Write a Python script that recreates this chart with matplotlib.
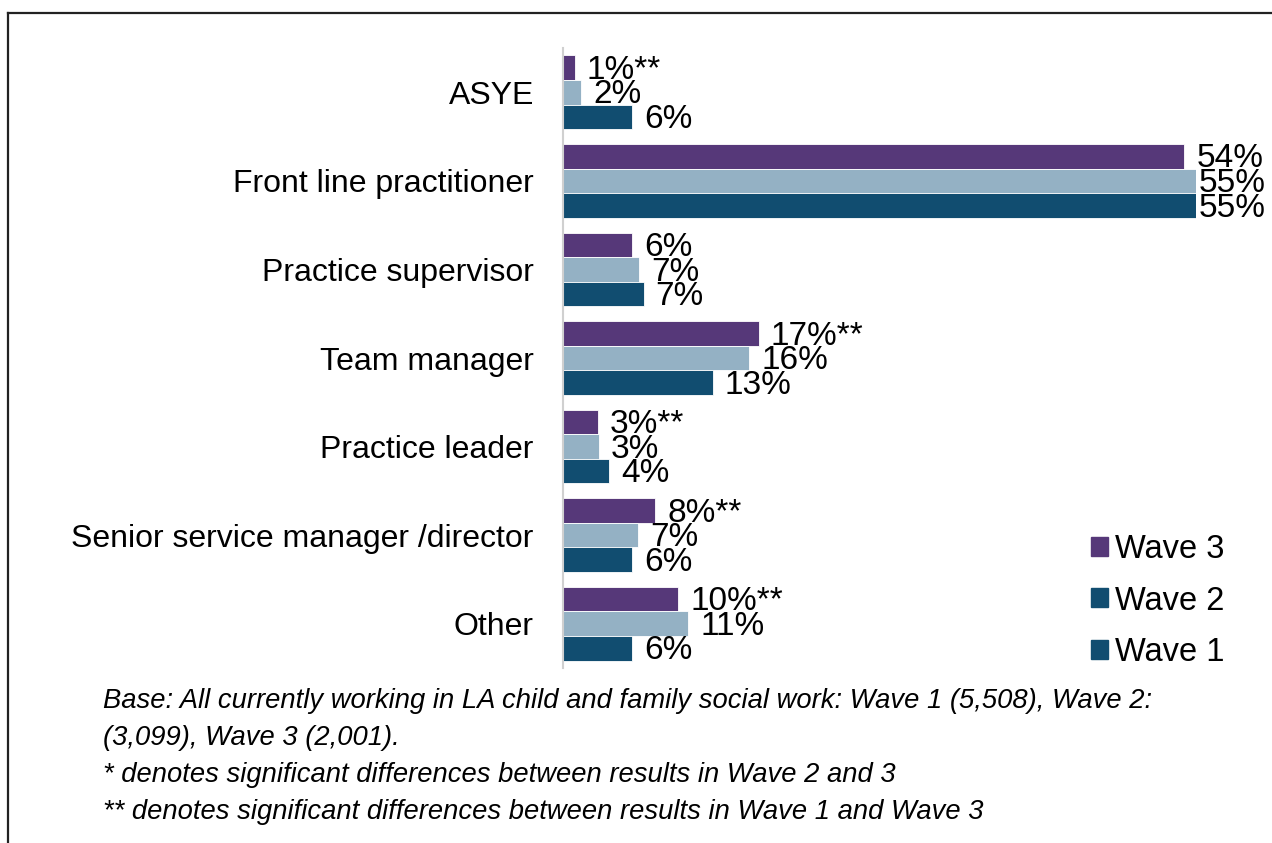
import matplotlib
matplotlib.use("Agg")
import matplotlib.pyplot as plt
from matplotlib.patches import Patch
from matplotlib.lines import Line2D
import numpy as np

plt.rcParams["font.family"] = ["Liberation Sans", "DejaVu Sans"]

categories = ["ASYE", "Front line practitioner", "Practice supervisor",
              "Team manager", "Practice leader",
              "Senior service manager /director", "Other"]
wave3 = [1.0, 54.0, 6.0, 17.0, 3.0, 8.0, 10.0]
wave2 = [1.6, 55.0, 6.6, 16.2, 3.1, 6.5, 10.9]
wave1 = [6.0, 55.0, 7.0, 13.0, 4.0, 6.0, 6.0]
labels3 = ["1%**", "54%", "6%", "17%**", "3%**", "8%**", "10%**"]
labels2 = ["2%", "55%", "7%", "16%", "3%", "7%", "11%"]
labels1 = ["6%", "55%", "7%", "13%", "4%", "6%", "6%"]

PURPLE = "#563879"
LIGHT = "#94B1C4"
DARK = "#114D70"

fig = plt.figure(figsize=(12.72, 8.43), dpi=100)
ax = fig.add_axes([563 / 1272, 1 - 668 / 843, (1196 - 563) / 1272, 620 / 843])

y = np.arange(len(categories))
h = 0.277
series = [(wave3, labels3, PURPLE, -h), (wave2, labels2, LIGHT, 0.0),
          (wave1, labels1, DARK, h)]
for vals, labs, col, off in series:
    ax.barh(y + off, vals, height=h, color=col, edgecolor="white", linewidth=0.6)
    for yi, v, lab in zip(y, vals, labs):
        # labels that would run off the chart are pulled back (as Excel does)
        ax.text(min(v + 1.05, 55.2), yi + off + 0.03, lab, va="center",
                ha="left", fontsize=24)

ax.set_xlim(0, 55)
ax.set_ylim(6.5, -0.5)
ax.set_yticks(y)
ax.set_yticklabels(categories, fontsize=23)
ax.tick_params(axis="y", length=0, pad=21)
ax.set_xticks([])
for s in ["top", "right", "bottom"]:
    ax.spines[s].set_visible(False)
ax.spines["left"].set_color("#d0d0d0")
ax.spines["left"].set_linewidth(1.5)

handles = [Patch(color=PURPLE, label="Wave 3"), Patch(color=DARK, label="Wave 2"),
           Patch(color=DARK, label="Wave 1")]
fig.legend(handles=handles, loc="center left", bbox_to_anchor=(1062 / 1272, 1 - 601 / 843),
           frameon=False, fontsize=23.5, handlelength=0.52, handleheight=0.52,
           handletextpad=0.2, labelspacing=0.63)

notes = ["Base: All currently working in LA child and family social work: Wave 1 (5,508), Wave 2:",
         "(3,099), Wave 3 (2,001).",
         "* denotes significant differences between results in Wave 2 and 3",
         "** denotes significant differences between results in Wave 1 and Wave 3"]
for i, line in enumerate(notes):
    fig.text(103 / 1272, 1 - (701 + 37 * i) / 843, line, fontsize=19.7,
             style="italic", va="center", ha="left")

# partial frame around the figure (left and top edges)
fig.add_artist(Line2D([7.5 / 1272, 7.5 / 1272], [0, 1 - 12.5 / 843],
                      transform=fig.transFigure, color="#222222", lw=1.6))
fig.add_artist(Line2D([7.5 / 1272, 1], [1 - 12.5 / 843, 1 - 12.5 / 843],
                      transform=fig.transFigure, color="#222222", lw=1.6))

fig.savefig("out.png", dpi=100)
